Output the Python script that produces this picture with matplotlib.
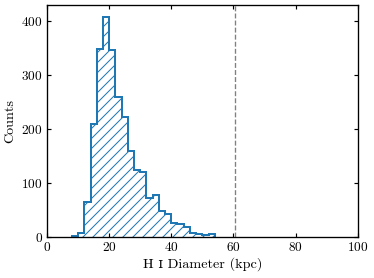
"""Histogram of H I diameters (kpc) with reference line."""
import numpy as np
import matplotlib
matplotlib.use("Agg")
import matplotlib.pyplot as plt

# bin edges (kpc) and counts
bin_edges = np.arange(8, 56, 2)
counts = [2, 7, 64, 210, 348, 408, 346, 259, 222, 159, 124, 121,
          72, 78, 49, 43, 26, 25, 18, 7, 6, 4, 5]
ref_diameter = 60.5

plt.rcParams["font.family"] = ["cmr10", "DejaVu Serif"]
plt.rcParams["mathtext.fontset"] = "cm"
plt.rcParams["axes.formatter.use_mathtext"] = True
plt.rcParams["hatch.linewidth"] = 0.6

DPI = 120
fig = plt.figure(figsize=(374 / DPI, 278 / DPI), dpi=DPI)
ax = fig.add_axes([0.1257, 0.1475, 0.8307, 0.8345])

centers = 0.5 * (bin_edges[:-1] + bin_edges[1:])
ax.hist(centers, bins=bin_edges, weights=counts, histtype="step",
        color="#1f77b4", lw=1.2, hatch="////")
ax.axvline(ref_diameter, color="0.5", ls="--", lw=0.8)

ax.set_xlim(0, 100)
ax.set_ylim(0, 430)
ax.set_xticks([0, 20, 40, 60, 80, 100])
ax.set_yticks([0, 100, 200, 300, 400])
ax.tick_params(direction="in", top=True, right=True, length=2.5, width=0.7,
               labelsize=8, pad=2.5)
for s in ax.spines.values():
    s.set_linewidth(0.8)
ax.set_xlabel("H \u026a Diameter (kpc)", fontsize=8.5, labelpad=2)
ax.set_ylabel("Counts", fontsize=8.5, labelpad=3)

fig.savefig("out.png", dpi=DPI)
